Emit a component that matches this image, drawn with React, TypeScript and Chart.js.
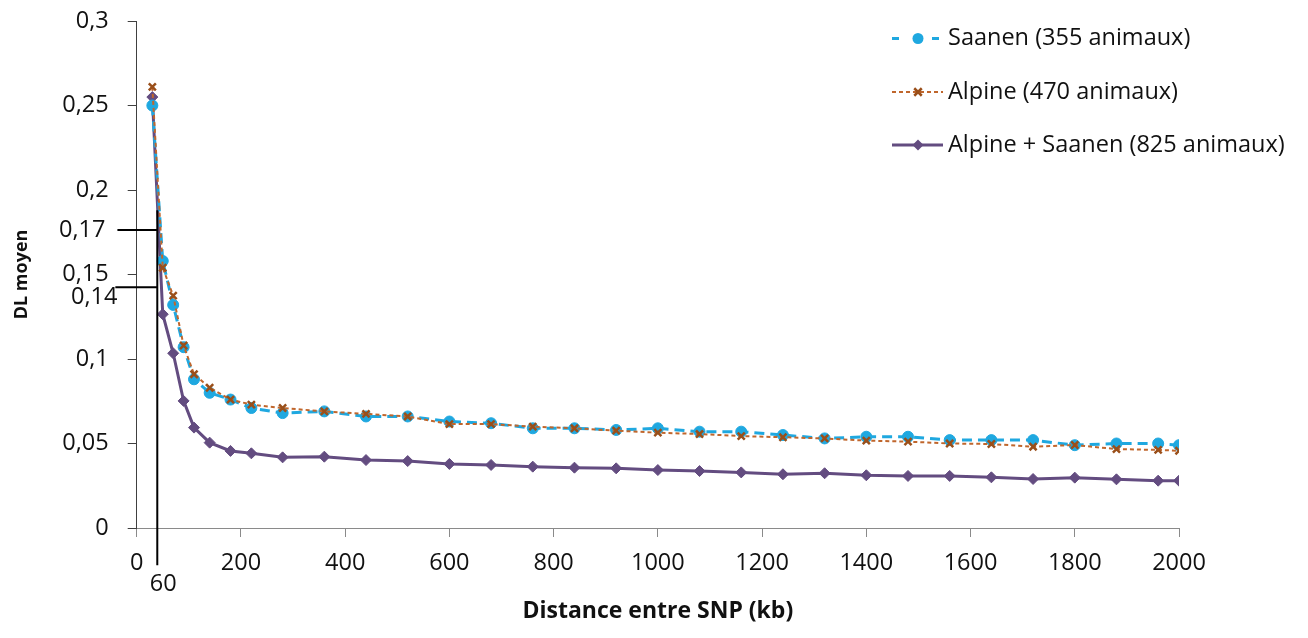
import React, { useEffect, useRef } from 'react';
import { Chart, registerables } from 'chart.js';

Chart.register(...registerables);

// ---- data ----
const distances = [30, 50, 70, 90, 110, 140, 180, 220, 280, 360, 440, 520, 600, 680, 760, 840, 920, 1000, 1080, 1160, 1240, 1320, 1400, 1480, 1560, 1640, 1720, 1800, 1880, 1960, 2000];

const saanen = [0.250, 0.158, 0.132, 0.107, 0.088, 0.080, 0.076, 0.071, 0.068, 0.069, 0.066, 0.066, 0.063, 0.062, 0.059, 0.059, 0.058, 0.059, 0.057, 0.057, 0.055, 0.053, 0.054, 0.054, 0.052, 0.052, 0.052, 0.049, 0.050, 0.050, 0.049];

const alpine = [0.261, 0.154, 0.1375, 0.108, 0.091, 0.083, 0.076, 0.073, 0.071, 0.069, 0.0675, 0.066, 0.0615, 0.0615, 0.060, 0.059, 0.0576, 0.0564, 0.0556, 0.0544, 0.0537, 0.053, 0.0517, 0.0511, 0.050, 0.0497, 0.0481, 0.0491, 0.0467, 0.0462, 0.0457];

const combined = [0.255, 0.1265, 0.1034, 0.0752, 0.0594, 0.0505, 0.0456, 0.0442, 0.0418, 0.0422, 0.0402, 0.0396, 0.0379, 0.0373, 0.0363, 0.0357, 0.0353, 0.0343, 0.0337, 0.0329, 0.0318, 0.0324, 0.0312, 0.0308, 0.0308, 0.030, 0.029, 0.0298, 0.0288, 0.028, 0.028];

const seriesLabels = ['Saanen (355 animaux)', 'Alpine (470 animaux)', 'Alpine + Saanen (825 animaux)'];

const xMin = 0;
const xMax = 2000;
const xStep = 200;
const yMin = 0;
const yMax = 0.3;
const yStep = 0.05;

const xTitle = 'Distance entre SNP (kb)';
const yTitle = 'DL moyen';

// hand-drawn annotation (in data units)
const markerDistance = 39.5;
const markerDistanceLabel = '60';
const markerTop = 0.188;
const markerBottom = -0.022;
const markerLevels = [0.1763, 0.1424];
const markerLevelStarts = [-37, -41];
const markerLevelLabels = ['0,17', '0,14'];

const FONT = "'Open Sans', 'DejaVu Sans', sans-serif";
const TEXT = '#111111';
const LABEL_SIZE = 23.5;

function fmt(v: number): string {
  const n = Number(v.toFixed(2));
  return String(n).replace('.', ',');
}

function drawMarker(ctx: CanvasRenderingContext2D, style: string, x: number, y: number, r: number, color: string) {
  ctx.save();
  ctx.fillStyle = color;
  ctx.strokeStyle = color;
  if (style === 'circle') {
    ctx.beginPath();
    ctx.arc(x, y, r, 0, Math.PI * 2);
    ctx.fill();
  } else if (style === 'crossRot') {
    ctx.lineWidth = 2.5;
    ctx.beginPath();
    const d = r * 0.75;
    ctx.moveTo(x - d, y - d);
    ctx.lineTo(x + d, y + d);
    ctx.moveTo(x + d, y - d);
    ctx.lineTo(x - d, y + d);
    ctx.stroke();
  } else if (style === 'rectRot') {
    ctx.beginPath();
    ctx.moveTo(x, y - r);
    ctx.lineTo(x + r, y);
    ctx.lineTo(x, y + r);
    ctx.lineTo(x - r, y);
    ctx.closePath();
    ctx.fill();
  }
  ctx.restore();
}

const legendPlugin = {
  id: 'customLegend',
  afterDraw(chart: any) {
    const ctx: CanvasRenderingContext2D = chart.ctx;
    const lineX0 = 884;
    const lineX1 = 935;
    const markX = 910;
    const textX = 940;
    const rows = [30.5, 84, 137];
    chart.data.datasets.forEach((ds: any, i: number) => {
      const y = rows[i];
      ctx.save();
      ctx.strokeStyle = ds.borderColor;
      ctx.lineWidth = ds.borderWidth;
      ctx.setLineDash(ds.legendDash || ds.borderDash || []);
      ctx.beginPath();
      ctx.moveTo(lineX0, y);
      ctx.lineTo(lineX1, y);
      ctx.stroke();
      ctx.restore();
      drawMarker(ctx, ds.pointStyle, markX, y, ds.pointRadius, ds.pointBorderColor);
      ctx.save();
      ctx.fillStyle = TEXT;
      ctx.font = `${LABEL_SIZE}px ${FONT}`;
      ctx.textAlign = 'left';
      ctx.textBaseline = 'middle';
      ctx.fillText(ds.label, textX, y);
      ctx.restore();
    });
  },
};

const annotationPlugin = {
  id: 'handAnnotation',
  afterDatasetsDraw(chart: any) {
    const ctx: CanvasRenderingContext2D = chart.ctx;
    const xs = chart.scales.x;
    const ys = chart.scales.y;
    const vx = xs.getPixelForValue(markerDistance);
    const vTop = ys.getPixelForValue(markerTop);
    const vBottom = ys.getPixelForValue(markerBottom);
    ctx.save();
    ctx.strokeStyle = '#000000';
    ctx.lineWidth = 2;
    ctx.beginPath();
    ctx.moveTo(vx, vTop);
    ctx.lineTo(vx, vBottom);
    markerLevels.forEach((lv, i) => {
      const py = ys.getPixelForValue(lv);
      const px0 = xs.getPixelForValue(markerLevelStarts[i]);
      ctx.moveTo(px0, py);
      ctx.lineTo(vx + 1, py);
    });
    ctx.stroke();
    ctx.fillStyle = TEXT;
    ctx.font = `${LABEL_SIZE}px ${FONT}`;
    ctx.textBaseline = 'middle';
    ctx.textAlign = 'center';
    ctx.fillText(markerDistanceLabel, vx + 6, vBottom + 19);
    ctx.textAlign = 'right';
    markerLevels.forEach((lv, i) => {
      const py = ys.getPixelForValue(lv);
      const px0 = xs.getPixelForValue(markerLevelStarts[i]);
      if (i === 0) ctx.fillText(markerLevelLabels[i], px0 - 12, py);
      else ctx.fillText(markerLevelLabels[i], px0 + 2, py + 9.5);
    });
    ctx.restore();
  },
};

export default function App() {
  const ref = useRef<HTMLCanvasElement | null>(null);

  useEffect(() => {
    if (!ref.current) return;
    const toPts = (arr: number[]) => distances.map((d, i) => ({ x: d, y: arr[i] }));
    const chart = new Chart(ref.current, {
      type: 'line',
      data: {
        datasets: [
          {
            label: seriesLabels[0],
            data: toPts(saanen),
            borderColor: '#1FA8E0',
            backgroundColor: '#1FA8E0',
            borderWidth: 3,
            borderDash: [10, 6],
            legendDash: [7, 33],
            pointStyle: 'circle',
            pointRadius: 5.5,
            pointBackgroundColor: '#1FA8E0',
            pointBorderColor: '#1FA8E0',
            pointBorderWidth: 1,
            tension: 0,
            order: 1,
          } as any,
          {
            label: seriesLabels[1],
            data: toPts(alpine),
            borderColor: '#C0662C',
            backgroundColor: '#9A4F1A',
            borderWidth: 2,
            borderDash: [4, 3],
            pointStyle: 'crossRot',
            pointRadius: 5,
            pointBorderColor: '#9A4F1A',
            pointBackgroundColor: '#9A4F1A',
            pointBorderWidth: 2.5,
            tension: 0,
            order: 0,
          } as any,
          {
            label: seriesLabels[2],
            data: toPts(combined),
            borderColor: '#634C80',
            backgroundColor: '#634C80',
            borderWidth: 3,
            pointStyle: 'rectRot',
            pointRadius: 5.5,
            pointBorderColor: '#634C80',
            pointBackgroundColor: '#634C80',
            pointBorderWidth: 1,
            tension: 0,
            order: 2,
          } as any,
        ],
      },
      options: {
        responsive: false,
        animation: false,
        layout: { padding: { top: 13, right: 121, left: 0, bottom: 0 } },
        plugins: {
          legend: { display: false },
          tooltip: { enabled: false },
        },
        scales: {
          x: {
            type: 'linear',
            min: xMin,
            max: xMax,
            ticks: {
              stepSize: xStep,
              color: TEXT,
              font: { family: FONT, size: LABEL_SIZE },
              padding: 12,
              maxRotation: 0,
              autoSkip: false,
              callback: (v: any) => String(v),
            },
            grid: { drawOnChartArea: false, drawTicks: true, tickLength: 9, color: '#8A8A8A' },
            border: { color: '#8A8A8A', width: 1 },
            title: {
              display: true,
              text: xTitle,
              color: TEXT,
              font: { family: FONT, size: 23, weight: 'bold' },
              padding: { top: 0, bottom: 4.5 },
            },
            afterFit: (s: any) => { s.height = 102; s.paddingLeft = 0; s.paddingRight = 0; },
          },
          y: {
            type: 'linear',
            min: yMin,
            max: yMax,
            ticks: {
              stepSize: yStep,
              color: TEXT,
              font: { family: FONT, size: LABEL_SIZE },
              padding: 19,
              callback: (v: any) => fmt(Number(v)),
            },
            grid: { drawOnChartArea: false, drawTicks: true, tickLength: 9, color: '#404040' },
            border: { color: '#404040', width: 1 },
            title: {
              display: true,
              text: yTitle,
              color: TEXT,
              font: { family: FONT, size: 18, weight: 'bold' },
              padding: { top: 3, bottom: 0 },
            },
            afterFit: (s: any) => { s.width = 128.7; s.paddingTop = 0; s.paddingBottom = 0; },
          },
        },
      } as any,
      plugins: [annotationPlugin, legendPlugin],
    });
    return () => chart.destroy();
  }, []);

  return (
    <div style={{ width: 1292, height: 622 }}>
      <canvas ref={ref} width={1292} height={622} style={{ display: 'block' }} />
    </div>
  );
}
